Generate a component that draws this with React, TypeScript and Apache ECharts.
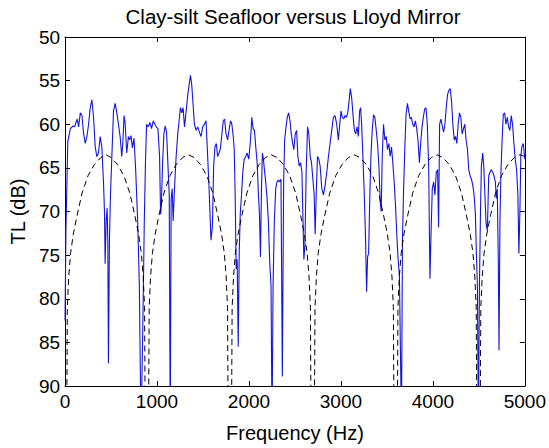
import React, { useEffect, useRef } from "react";
import * as echarts from "echarts";

const titleText = "Clay-silt Seafloor versus Lloyd Mirror";
const xName = "Frequency (Hz)";
const yName = "TL (dB)";

// Measured clay-silt seafloor TL (Hz, dB)
const measuredTL: [number, number][] = [
  [0, 82.5], [10, 72], [30, 62], [58, 60.5], [87, 60.2], [105, 60.3], [119, 59.8], [133, 59.4], [148, 60.3], [166, 58.7],
  [184, 59.0], [202, 61.1], [220, 62.2], [238, 61.4], [256, 60.0], [274, 58.1], [292, 57.2], [310, 59.2], [328, 62.6], [346, 63.7],
  [364, 63.3], [382, 61.4], [400, 62.6], [418, 66.6], [429, 70.0], [436, 76.0], [447, 71.1], [458, 69.6], [465, 73.3], [472, 87.4],
  [483, 73.3], [494, 68.1], [509, 63.7], [527, 58.5], [545, 57.6], [563, 58.7], [581, 60.0], [599, 61.4], [617, 63.7], [628, 62.2],
  [642, 59.0], [653, 59.8], [671, 63.3], [689, 61.4], [703, 61.8], [718, 61.3], [732, 62.7], [750, 61.6], [768, 65.2], [790, 71.1],
  [808, 78.5], [826, 95], [844, 84.4], [862, 71.1], [876, 63.7], [887, 60.0], [905, 60.3], [923, 59.8], [941, 60.5], [959, 59.6],
  [977, 60.0], [992, 60.3], [1010, 60.5], [1028, 63.7], [1039, 70.3], [1046, 69.6], [1061, 64.4], [1075, 61.1], [1089, 60.2], [1104, 60.9],
  [1118, 64.4], [1133, 68.1], [1144, 95], [1154, 68.5], [1165, 67.4], [1176, 71.1], [1190, 67.4], [1208, 63.7], [1226, 61.1], [1244, 59.2],
  [1255, 58.1], [1270, 58.7], [1284, 58.1], [1299, 60.3], [1317, 58.5], [1335, 56.6], [1353, 55.2], [1364, 54.4], [1378, 55.5], [1392, 57.7],
  [1407, 60.0], [1425, 60.7], [1443, 60.3], [1461, 60.9], [1479, 61.4], [1497, 60.3], [1515, 60.0], [1533, 59.6], [1551, 63.7], [1569, 68.1],
  [1587, 73.3], [1602, 71.8], [1616, 64.8], [1630, 62.6], [1645, 62.2], [1659, 63.7], [1674, 63.3], [1688, 62.9], [1703, 61.4], [1721, 59.6],
  [1735, 59.4], [1750, 61.1], [1768, 61.8], [1786, 60.5], [1800, 59.6], [1814, 60.0], [1829, 61.4], [1840, 62.9], [1850, 68.1], [1861, 76.6],
  [1872, 75.5], [1883, 85.5], [1894, 74.8], [1905, 70.3], [1919, 68.1], [1933, 65.5], [1948, 64.0], [1966, 63.7], [1980, 63.3], [1998, 64.0],
  [2017, 61.8], [2031, 59.2], [2045, 60.5], [2060, 60.7], [2074, 62.6], [2089, 64.4], [2103, 68.1], [2114, 70.3], [2125, 75.2], [2136, 67.4],
  [2146, 63.3], [2157, 64.0], [2168, 65.2], [2182, 66.6], [2197, 68.5], [2211, 71.1], [2226, 75.9], [2240, 78.5], [2251, 95], [2262, 78.5],
  [2276, 71.1], [2291, 67.4], [2305, 66.6], [2320, 66.4], [2334, 66.6], [2348, 66.3], [2363, 88.9], [2377, 66.6], [2388, 61.8], [2403, 60.3],
  [2417, 59.2], [2431, 58.7], [2446, 59.6], [2460, 61.1], [2475, 62.2], [2489, 62.9], [2503, 61.1], [2518, 60.7], [2532, 63.7], [2547, 64.8],
  [2561, 64.4], [2576, 65.5], [2586, 70.3], [2597, 75.5], [2608, 74.0], [2622, 65.5], [2637, 60.3], [2651, 61.1], [2666, 63.7], [2680, 64.4],
  [2695, 66.3], [2709, 68.1], [2720, 72.6], [2731, 68.1], [2745, 63.7], [2760, 64.0], [2774, 64.8], [2792, 67.4], [2810, 68.1], [2828, 67.0],
  [2846, 65.5], [2864, 63.7], [2882, 62.2], [2900, 60.7], [2918, 59.2], [2936, 59.0], [2954, 60.0], [2972, 61.8], [2987, 60.0], [3001, 58.5],
  [3016, 59.2], [3030, 59.4], [3045, 59.0], [3059, 59.2], [3074, 58.7], [3088, 57.4], [3102, 55.9], [3117, 57.0], [3131, 58.9], [3146, 60.7],
  [3160, 61.1], [3175, 60.3], [3189, 61.4], [3203, 58.5], [3214, 58.1], [3225, 60.0], [3239, 63.7], [3254, 68.1], [3268, 73.3], [3279, 79.2],
  [3290, 75.2], [3301, 74.8], [3312, 69.2], [3326, 63.7], [3340, 60.7], [3355, 58.9], [3369, 59.2], [3384, 60.7], [3398, 62.2], [3413, 64.8],
  [3427, 68.9], [3438, 70.0], [3449, 63.7], [3463, 60.0], [3478, 61.8], [3492, 61.4], [3506, 62.9], [3521, 62.2], [3535, 63.7], [3550, 62.6],
  [3564, 64.4], [3579, 66.6], [3593, 69.2], [3607, 72.6], [3622, 75.5], [3636, 77.4], [3647, 85.9], [3658, 95], [3669, 73.3], [3680, 68.1],
  [3694, 62.9], [3708, 58.9], [3723, 57.6], [3737, 58.5], [3752, 59.4], [3766, 59.2], [3781, 60.0], [3795, 60.3], [3809, 59.6], [3824, 60.5],
  [3838, 61.8], [3853, 64.4], [3867, 62.2], [3882, 60.3], [3896, 59.2], [3910, 58.3], [3925, 58.1], [3939, 60.0], [3954, 64.8], [3968, 77.7],
  [3979, 72.9], [3993, 67.4], [4008, 66.6], [4022, 68.1], [4037, 65.5], [4051, 65.2], [4062, 71.8], [4073, 60.0], [4087, 59.4], [4102, 60.2],
  [4116, 60.9], [4131, 60.0], [4145, 58.1], [4159, 56.6], [4174, 56.1], [4188, 55.9], [4203, 57.4], [4217, 60.0], [4232, 61.8], [4246, 61.4],
  [4260, 62.2], [4275, 60.0], [4289, 58.7], [4304, 59.2], [4318, 61.1], [4333, 60.5], [4347, 60.0], [4361, 61.8], [4376, 62.9], [4390, 65.2],
  [4405, 65.9], [4419, 66.3], [4434, 67.0], [4448, 68.1], [4462, 70.3], [4473, 74.8], [4484, 78.5], [4495, 95], [4506, 78.5], [4517, 70.3],
  [4527, 64.8], [4542, 63.3], [4553, 64.8], [4563, 67.4], [4578, 71.4], [4592, 72.2], [4607, 65.9], [4621, 65.5], [4636, 65.2], [4650, 65.5],
  [4664, 65.9], [4679, 66.6], [4690, 68.5], [4700, 67.4], [4711, 75.5], [4719, 85.9], [4729, 71.1], [4740, 65.5], [4751, 62.2], [4765, 58.9],
  [4780, 58.7], [4794, 60.0], [4809, 59.2], [4823, 60.3], [4837, 60.7], [4852, 59.0], [4866, 60.0], [4881, 62.2], [4895, 64.0], [4910, 65.2],
  [4924, 68.1], [4935, 74.8], [4946, 70.0], [4956, 63.7], [4967, 62.6], [4982, 62.2], [5000, 64.0],
];

// Lloyd mirror reference (Hz, dB); nulls run off the bottom of the axis
const lloydMirrorTL: [number, number][] = [
  [0, 130], [25, 81], [40, 77.5], [60, 74.8], [90, 72.6], [130, 70.5], [185, 67.9], [250, 65.9], [320, 64.6], [390, 63.8],
  [445, 63.5], [500, 63.8], [570, 64.6], [640, 65.9], [705, 67.9], [760, 70.5], [800, 72.6], [830, 74.8], [850, 77.5], [865, 81], [890, 130],
  [915, 81], [930, 77.5], [950, 74.8], [980, 72.6], [1020, 70.5], [1075, 67.9], [1140, 65.9], [1210, 64.6], [1280, 63.8], [1341, 63.5],
  [1402, 63.8], [1472, 64.6], [1542, 65.9], [1607, 67.9], [1662, 70.5], [1702, 72.6], [1732, 74.8], [1752, 77.5], [1767, 81], [1792, 130],
  [1817, 81], [1832, 77.5], [1852, 74.8], [1882, 72.6], [1922, 70.5], [1977, 67.9], [2042, 65.9], [2112, 64.6], [2182, 63.8], [2242, 63.5],
  [2303, 63.8], [2373, 64.6], [2443, 65.9], [2508, 67.9], [2563, 70.5], [2603, 72.6], [2633, 74.8], [2653, 77.5], [2668, 81], [2693, 130],
  [2718, 81], [2733, 77.5], [2753, 74.8], [2783, 72.6], [2823, 70.5], [2878, 67.9], [2943, 65.9], [3013, 64.6], [3083, 63.8], [3144, 63.5],
  [3205, 63.8], [3275, 64.6], [3345, 65.9], [3410, 67.9], [3465, 70.5], [3505, 72.6], [3535, 74.8], [3555, 77.5], [3570, 81], [3595, 130],
  [3620, 81], [3635, 77.5], [3655, 74.8], [3685, 72.6], [3725, 70.5], [3780, 67.9], [3845, 65.9], [3915, 64.6], [3985, 63.8], [4046, 63.5],
  [4106, 63.8], [4176, 64.6], [4246, 65.9], [4311, 67.9], [4366, 70.5], [4406, 72.6], [4436, 74.8], [4456, 77.5], [4471, 81], [4496, 130],
  [4521, 81], [4536, 77.5], [4556, 74.8], [4586, 72.6], [4626, 70.5], [4681, 67.9], [4746, 65.9], [4816, 64.6], [4886, 63.8], [4946, 63.5],
  [5000, 63.7],
];

const FONT = '"Liberation Sans", Arial, Helvetica, sans-serif';

export default function App() {
  const ref = useRef<HTMLDivElement>(null);
  useEffect(() => {
    if (!ref.current) return;
    const chart = echarts.init(ref.current, undefined, { renderer: "svg" });
    const axisLine = { show: true, onZero: false, lineStyle: { color: "#000", width: 1 } };
    const tick = { show: true, inside: true, length: 5, lineStyle: { color: "#000", width: 1 } };
    const txt = { color: "#000", fontSize: 19, fontFamily: FONT };
    const nameTxt = { color: "#000", fontSize: 20, fontFamily: FONT };
    chart.setOption({
      animation: false,
      backgroundColor: "#fff",
      grid: { left: 63, right: 24, top: 37, bottom: 51, containLabel: false },
      graphic: [
        {
          type: "text",
          x: 293,
          y: 16,
          style: { text: titleText, align: "center", verticalAlign: "middle", fill: "#000", fontSize: 20.5, fontFamily: FONT },
        },
      ],
      xAxis: [
        {
          type: "value", min: 0, max: 5000, interval: 1000, position: "bottom",
          axisLine, axisTick: tick, splitLine: { show: false },
          axisLabel: { ...txt, margin: 6, formatter: (v: number) => String(v) },
          name: xName, nameLocation: "middle", nameGap: 37, nameTextStyle: nameTxt,
        },
        {
          type: "value", min: 0, max: 5000, interval: 1000, position: "top",
          axisLine, axisTick: tick, splitLine: { show: false }, axisLabel: { show: false },
        },
      ],
      yAxis: [
        {
          type: "value", min: 50, max: 90, interval: 5, inverse: true, position: "left",
          axisLine, axisTick: tick, splitLine: { show: false },
          axisLabel: { ...txt, margin: 5, formatter: (v: number) => String(v) },
          name: yName, nameLocation: "middle", nameGap: 34, nameTextStyle: nameTxt,
        },
        {
          type: "value", min: 50, max: 90, interval: 5, inverse: true, position: "right",
          axisLine, axisTick: tick, splitLine: { show: false }, axisLabel: { show: false },
        },
      ],
      series: [
        {
          type: "line", xAxisIndex: 0, yAxisIndex: 0, data: measuredTL, showSymbol: false, clip: true,
          lineStyle: { color: "#1414e0", width: 1.1 },
        },
        {
          type: "line", xAxisIndex: 0, yAxisIndex: 0, data: lloydMirrorTL, showSymbol: false, clip: true,
          lineStyle: { color: "#000", width: 1, type: [6, 4] },
        },
      ],
    });
    return () => chart.dispose();
  }, []);
  return (
    <div
      ref={ref}
      style={{ position: "fixed", left: 0, top: 0, width: 549, height: 448, background: "#fff" }}
    />
  );
}
